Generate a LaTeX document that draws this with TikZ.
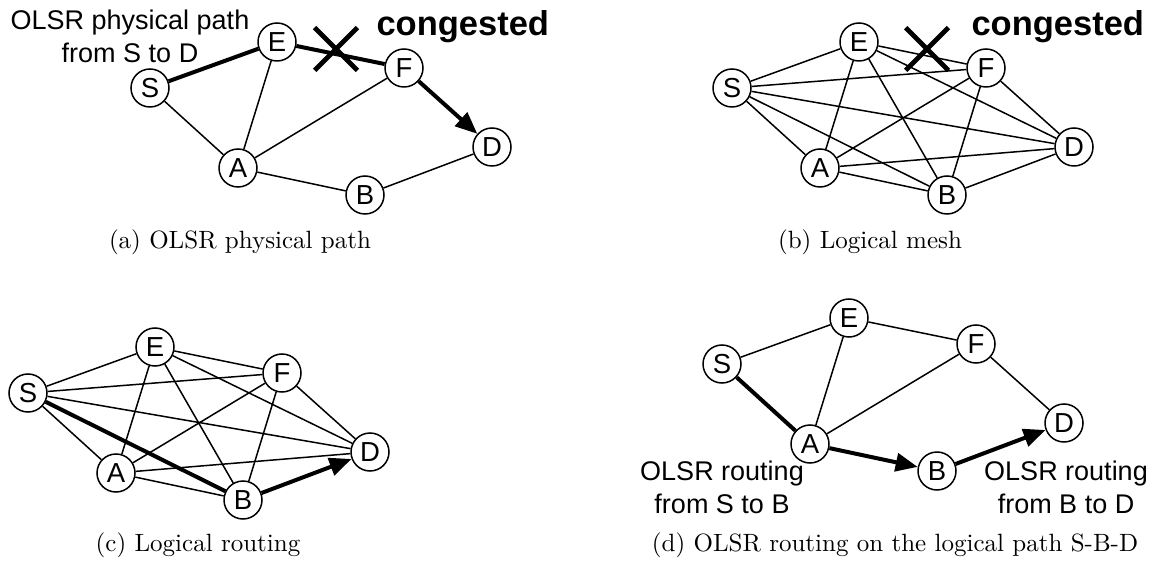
\documentclass[tikz,border=0pt]{standalone}
\usepackage{fontspec}
\newfontfamily\helv{Liberation Sans}
\usetikzlibrary{arrows.meta,shapes.misc}

\tikzset{
  router/.style={circle, draw, line width=0.6pt, fill=white, minimum size=15.2pt,
    inner sep=0pt, font=\helv\fontsize{11}{12}\selectfont},
  link/.style={line width=0.6pt},
  route/.style={line width=1.6pt},
  hop/.style={route, -{Triangle[length=8.8pt,width=7.2pt]}},
  congest/.style={cross out, draw, line width=1.9pt, minimum size=15.2pt, inner sep=0pt},
  note/.style={font=\helv\fontsize{10.8}{13.2}\selectfont, align=center, anchor=north, inner sep=0pt},
  bignote/.style={font=\helv\bfseries\fontsize{13.8}{16}\selectfont, anchor=base west, inner sep=0pt},
  caption/.style={font=\fontsize{10}{12}\selectfont, anchor=base, inner sep=0pt},
}

\begin{document}
\begin{tikzpicture}[x=0.4pt, y=-0.4pt]
  \useasboundingbox (0,0) rectangle (1157,571);

  % the same six routers in every panel, only shifted
  \foreach \p/\dx/\dy in {a/0/0, b/582/0, c/-122/305, d/572/276} {
    \node[router] (\p-S) at ({150+\dx}, {88+\dy}) {S};
    \node[router] (\p-E) at ({277+\dx}, {42+\dy}) {E};
    \node[router] (\p-F) at ({404+\dx}, {68+\dy}) {F};
    \node[router] (\p-A) at ({238+\dx}, {168+\dy}) {A};
    \node[router] (\p-B) at ({365+\dx}, {195+\dy}) {B};
    \node[router] (\p-D) at ({492+\dx}, {147+\dy}) {D};
  }

  % (a) physical links, OLSR path over E-F
  \draw[link] (a-S) -- (a-A) (a-E) -- (a-A) (a-A) -- (a-F) (a-A) -- (a-B) (a-B) -- (a-D);
  \draw[route] (a-S) -- (a-E) (a-E) -- (a-F);
  \draw[hop] (a-F) -- (a-D);
  \node[congest] (xa) at (336, 49) {};
  \node[note] (pa) at (130, 9) {OLSR physical path\\from S to D};
  \node[bignote] (ca) at (376, 36) {congested};

  % (b) every pair is a logical link
  \foreach \u/\v in {S/E, S/F, S/A, S/B, S/D, E/F, E/A, E/B, E/D, F/A, F/B, F/D, A/B, A/D, B/D}
    \draw[link] (b-\u) -- (b-\v);
  \node[congest] (xb) at (927, 49) {};
  \node[bignote] (cb) at (971, 36) {congested};

  % (c) logical route S-B-D
  \foreach \u/\v in {S/E, S/F, S/A, S/D, E/F, E/A, E/B, E/D, F/A, F/B, F/D, A/B, A/D}
    \draw[link] (c-\u) -- (c-\v);
  \draw[route] (c-S) -- (c-B);
  \draw[hop] (c-B) -- (c-D);

  % (d) OLSR underneath each logical hop
  \draw[link] (d-S) -- (d-E) (d-E) -- (d-A) (d-E) -- (d-F) (d-A) -- (d-F) (d-F) -- (d-D);
  \draw[route] (d-S) -- (d-A);
  \draw[hop] (d-A) -- (d-B);
  \draw[hop] (d-B) -- (d-D);
  \node[note] (ld) at (722, 460) {OLSR routing\\from S to B};
  \node[note] (rd) at (1066, 460) {OLSR routing\\from B to D};

  % sub-captions
  \node[caption] (cap-a) at (240, 249) {(a) OLSR physical path};
  \node[caption] (cap-b) at (870, 249) {(b) Logical mesh};
  \node[caption] (cap-c) at (198, 551) {(c) Logical routing};
  \node[caption] (cap-d) at (895, 551) {(d) OLSR routing on the logical path S-B-D};
\end{tikzpicture}
\end{document}
